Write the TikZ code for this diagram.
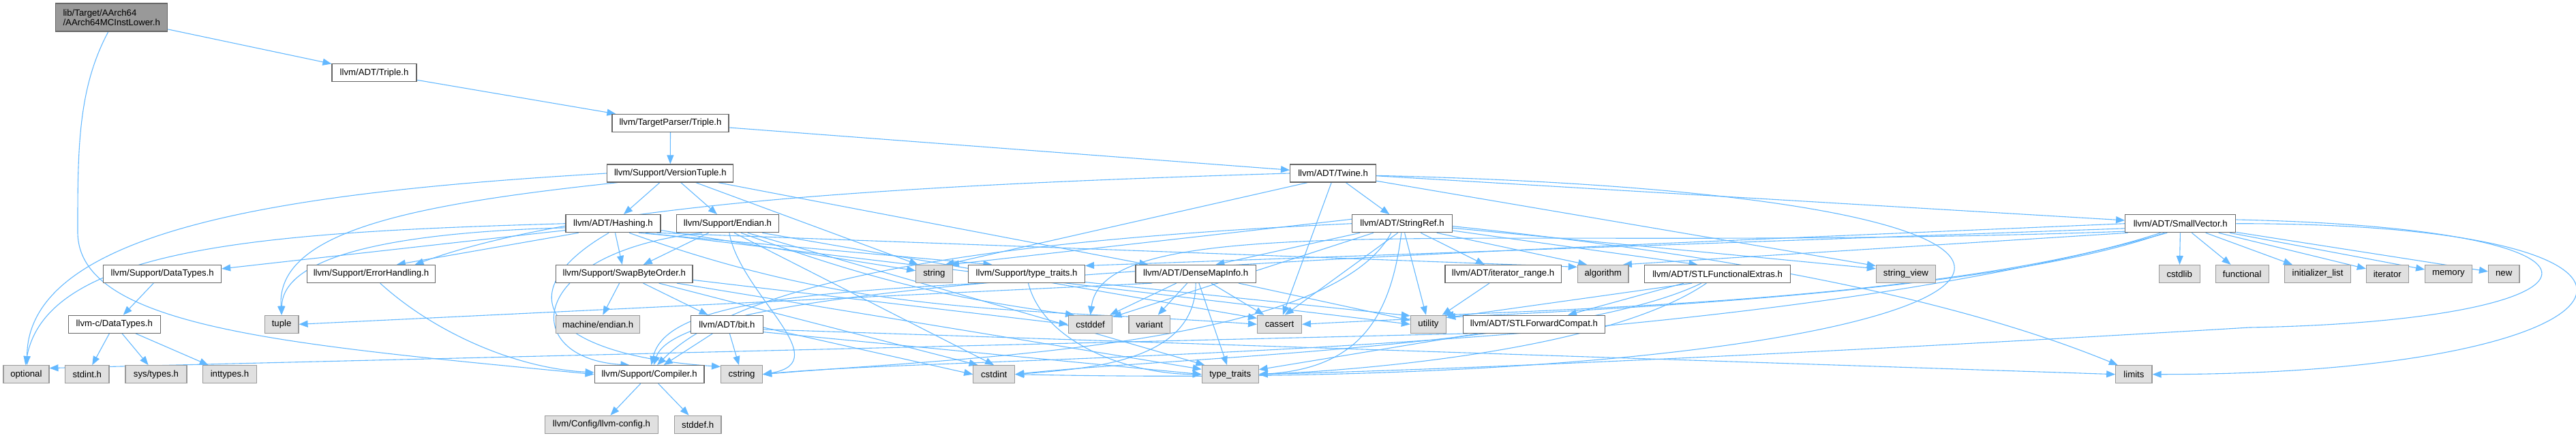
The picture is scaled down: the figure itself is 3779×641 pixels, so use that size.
\documentclass[tikz,border=0pt]{standalone}
\usepackage{fontspec}
\setmainfont{Liberation Sans}
\usetikzlibrary{positioning,arrows.meta,backgrounds}
\definecolor{incc}{HTML}{63B8FF}
\definecolor{filec}{HTML}{666666}
\definecolor{sysc}{HTML}{999999}
\definecolor{sysfill}{HTML}{E0E0E0}
\tikzset{
  hdr/.style={draw=filec, fill=white, line width=1.2pt, inner sep=0pt,
              minimum height=26pt, font=\fontsize{13.2}{14}\selectfont},
  shdr/.style={hdr, draw=sysc, fill=sysfill},
  rhdr/.style={hdr, draw=filec, fill=sysc, align=left, minimum height=41pt},
  inc/.style={-{Triangle[length=13pt,width=10pt]}, color=incc, line width=1.1pt},
}
\begin{document}
\begin{tikzpicture}[x=1pt,y=1pt]
  \useasboundingbox (0,0) rectangle (3779,-641);
  % the file and its direct includes
  \node[rhdr, minimum width=164pt] (main) at (163.7,-25.5) {lib/Target/AArch64\\/AArch64MCInstLower.h};
  \node[hdr, minimum width=124pt] (adttriple) at (549,-106.7) {llvm/ADT/Triple.h};
  \node[hdr, minimum width=171pt] (tptriple) at (983.5,-180.5) {llvm/TargetParser/Triple.h};
  \node[hdr, minimum width=185pt] (versiontuple) at (983.3,-254) {llvm/Support/VersionTuple.h};
  \node[hdr, minimum width=126pt] (twine) at (1955.6,-254) {llvm/ADT/Twine.h};
  % row 4
  \node[hdr, minimum width=139pt] (hashing) at (899.5,-327.7) {llvm/ADT/Hashing.h};
  \node[hdr, minimum width=150pt] (endian) at (1067.5,-327.7) {llvm/Support/Endian.h};
  \node[hdr, minimum width=146.5pt] (stringref) at (2057,-327.7) {llvm/ADT/StringRef.h};
  \node[hdr, minimum width=162pt] (smallvector) at (3198.7,-327.7) {llvm/ADT/SmallVector.h};
  % row 5
  \node[hdr, minimum width=172.7pt] (supdatatypes) at (238.2,-401.5) {llvm/Support/DataTypes.h};
  \node[hdr, minimum width=188.6pt] (errorhandling) at (544.5,-401.5) {llvm/Support/ErrorHandling.h};
  \node[hdr, minimum width=200.5pt] (swapbyteorder) at (915.8,-401.5) {llvm/Support/SwapByteOrder.h};
  \node[shdr, minimum width=53.4pt] (string) at (1370.4,-401.5) {string};
  \node[hdr, minimum width=170.6pt] (typetraitsh) at (1506.1,-401.5) {llvm/Support/type\_traits.h};
  \node[hdr, minimum width=176.4pt] (densemapinfo) at (1754.2,-401.5) {llvm/ADT/DenseMapInfo.h};
  \node[hdr, minimum width=170.2pt] (iteratorrange) at (2205.1,-401.5) {llvm/ADT/iterator\_range.h};
  \node[shdr, minimum width=74.7pt] (algorithm) at (2351.7,-401.5) {algorithm};
  \node[hdr, minimum width=213.8pt] (stlfunc) at (2519.6,-401.5) {llvm/ADT/STLFunctionalExtras.h};
  \node[shdr, minimum width=87.1pt] (stringview) at (2795.9,-401.5) {string\_view};
  \node[shdr, minimum width=60.1pt] (cstdlib) at (3197.2,-401.5) {cstdlib};
  \node[shdr, minimum width=77.8pt] (functional) at (3289.2,-401.5) {functional};
  \node[shdr, minimum width=96.7pt] (initlist) at (3400,-401.5) {initializer\_list};
  \node[shdr, minimum width=61.8pt] (iterator) at (3502.3,-401.5) {iterator};
  \node[shdr, minimum width=68.5pt] (memory) at (3591.9,-401.5) {memory};
  \node[shdr, minimum width=45.4pt] (new) at (3673.2,-401.5) {new};
  % row 6
  \node[hdr, minimum width=134.7pt] (cdatatypes) at (167.8,-475.3) {llvm-c/DataTypes.h};
  \node[shdr, minimum width=49.8pt] (tuple) at (413.1,-475.3) {tuple};
  \node[shdr, minimum width=123.3pt] (machineendian) at (877.1,-475.3) {machine/endian.h};
  \node[hdr, minimum width=105.7pt] (bit) at (1066.4,-475.3) {llvm/ADT/bit.h};
  \node[shdr, minimum width=64.5pt] (cstddef) at (1599.6,-475.3) {cstddef};
  \node[shdr, minimum width=60.4pt] (variant) at (1686.1,-475.3) {variant};
  \node[shdr, minimum width=64.9pt] (cassert) at (1877,-475.3) {cassert};
  \node[shdr, minimum width=52.2pt] (utility) at (2095.5,-475.3) {utility};
  \node[hdr, minimum width=208.6pt] (stlfwd) at (2250.4,-475.3) {llvm/ADT/STLForwardCompat.h};
  % row 7
  \node[shdr, minimum width=67pt] (optional) at (38.4,-548.7) {optional};
  \node[shdr, minimum width=64.5pt] (stdint) at (127.8,-548.7) {stdint.h};
  \node[shdr, minimum width=90pt] (systypes) at (229,-548.7) {sys/types.h};
  \node[shdr, minimum width=78.7pt] (inttypes) at (337,-548.7) {inttypes.h};
  \node[hdr, minimum width=160.8pt] (compiler) at (952.6,-548.7) {llvm/Support/Compiler.h};
  \node[shdr, minimum width=60.8pt] (cstring) at (1088,-548.7) {cstring};
  \node[shdr, minimum width=60.8pt] (cstdint) at (1458.2,-548.7) {cstdint};
  \node[shdr, minimum width=82.8pt] (typetraits) at (1804.7,-548.7) {type\_traits};
  \node[shdr, minimum width=53.3pt] (limits) at (3130.4,-548.7) {limits};
  % row 8
  \node[shdr, minimum width=165.7pt] (llvmconfig) at (882.5,-622.3) {llvm/Config/llvm-config.h};
  \node[shdr, minimum width=68.6pt] (stddefh) at (1023.7,-622.3) {stddef.h};

  \begin{scope}[on background layer]
  % top chain
  \draw[inc] (main) -- (adttriple);
  \draw[inc] (main.-103) .. controls (114,-130) and (114,-220) .. (114,-340)
             .. controls (114,-480) and (420,-505) .. (compiler.west);
  \draw[inc] (adttriple) -- (tptriple);
  \draw[inc] (tptriple) -- (versiontuple);
  \draw[inc] (tptriple) -- (twine);
  % VersionTuple.h
  \draw[inc] (versiontuple) -- (hashing);
  \draw[inc] (versiontuple) -- (endian);
  \draw[inc] (versiontuple.-11) -- (densemapinfo.169);
  \draw[inc] (versiontuple.-20) -- (string.150);
  \draw[inc] (versiontuple.west) .. controls (450,-280) and (40,-330) .. (optional.85);
  \draw[inc] (versiontuple.190) .. controls (600,-300) and (405,-340) .. (tuple.north);
  % Hashing.h
  \draw[inc] (hashing.188) -- (supdatatypes.5);
  \draw[inc] (hashing.195) -- (errorhandling.20);
  \draw[inc] (hashing) -- (swapbyteorder);
  \draw[inc] (hashing.-20) -- (typetraitsh.165);
  \draw[inc] (hashing.-12) -- (algorithm.165);
  \draw[inc] (hashing.-30) .. controls (1270,-465) and (1480,-450) .. (cassert.west);
  \draw[inc] (hashing.-115) .. controls (740,-430) and (800,-520) .. (cstring.160);
  \draw[inc] (hashing.west) .. controls (400,-340) and (70,-360) .. (optional.95);
  \draw[inc] (hashing.185) .. controls (600,-340) and (415,-370) .. (tuple.north);
  \draw[inc] (hashing.-8) -- (string.170);
  \draw[inc] (hashing.-16) -- (utility.west);
  % Endian.h
  \draw[inc] (endian) -- (swapbyteorder);
  \draw[inc] (endian.200) .. controls (770,-370) and (760,-525) .. (compiler.155);
  \draw[inc] (endian.-15) -- (cassert.165);
  \draw[inc] (endian.-35) to[bend right=6] (cstddef.150);
  \draw[inc] (endian.-55) -- (cstdint.north);
  \draw[inc] (endian.-80) .. controls (1085,-430) and (1230,-530) .. (cstring.east);
  \draw[inc] (endian.-25) -- (typetraits.160);
  % SwapByteOrder.h and bit.h
  \draw[inc] (swapbyteorder) -- (machineendian);
  \draw[inc] (swapbyteorder) -- (bit);
  \draw[inc] (swapbyteorder.-5) -- (cstddef.west);
  \draw[inc] (swapbyteorder.-15) -- (cstdint.150);
  \draw[inc] (swapbyteorder.-10) -- (typetraits.170);
  \draw[inc] (bit) -- (compiler);
  \draw[inc] (bit) -- (cstring);
  \draw[inc] (bit.-5) -- (cstdint.west);
  \draw[inc] (bit.-8) -- (limits.west);
  \draw[inc] (bit.-12) -- (typetraits.west);
  % Compiler.h, DataTypes.h, ErrorHandling.h
  \draw[inc] (compiler) -- (llvmconfig);
  \draw[inc] (compiler) -- (stddefh);
  \draw[inc] (supdatatypes) -- (cdatatypes);
  \draw[inc] (cdatatypes) -- (stdint);
  \draw[inc] (cdatatypes) -- (systypes);
  \draw[inc] (cdatatypes) -- (inttypes);
  \draw[inc] (errorhandling.-46) .. controls (640,-490) and (760,-540) .. (compiler.178);
  % type_traits.h and DenseMapInfo.h
  \draw[inc] (typetraitsh.192) .. controls (1150,-430) and (975,-450) .. (compiler.78);
  \draw[inc] (typetraitsh.-80) .. controls (1530,-500) and (1650,-548) .. (typetraits.west);
  \draw[inc] (typetraitsh.-8) -- (utility.155);
  \draw[inc] (densemapinfo) -- (cassert);
  \draw[inc] (densemapinfo) -- (cstddef);
  \draw[inc] (densemapinfo) -- (variant);
  \draw[inc] (densemapinfo) -- (typetraits);
  \draw[inc] (densemapinfo.-90) .. controls (1754,-530) and (1600,-540) .. (cstdint.east);
  \draw[inc] (densemapinfo.192) -- (tuple.east);
  \draw[inc] (densemapinfo) -- (utility);
  % Twine.h
  \draw[inc] (twine) -- (smallvector);
  \draw[inc] (twine) -- (stringref);
  \draw[inc] (twine.west) .. controls (1300,-272) and (850,-300) .. (errorhandling.12);
  \draw[inc] (twine.-100) -- (cassert.70);
  \draw[inc] (twine.-3) .. controls (3400,-290) and (3000,-580) .. (cstdint.east);
  \draw[inc] (twine.-160) -- (string.40);
  \draw[inc] (twine.-10) -- (stringview.165);
  % StringRef.h
  \draw[inc] (stringref) -- (densemapinfo.25);
  \draw[inc] (stringref) -- (stlfunc.155);
  \draw[inc] (stringref) -- (iteratorrange);
  \draw[inc] (stringref.west) .. controls (1500,-350) and (1100,-400) .. (compiler.50);
  \draw[inc] (stringref.-15) -- (algorithm.150);
  \draw[inc] (stringref.-115) -- (cassert.60);
  \draw[inc] (stringref) -- (cstddef);
  \draw[inc] (stringref.-140) .. controls (1950,-510) and (1400,-525) .. (cstring.east);
  \draw[inc] (stringref.-3) .. controls (2500,-370) and (2850,-430) .. (limits.150);
  \draw[inc] (stringref.175) -- (string.30);
  \draw[inc] (stringref.-5) -- (stringview.170);
  \draw[inc] (stringref.-95) .. controls (2040,-470) and (1990,-540) .. (typetraits.east);
  \draw[inc] (stringref) -- (utility);
  % iterator_range.h, STLFunctionalExtras.h, STLForwardCompat.h
  \draw[inc] (iteratorrange) -- (utility);
  \draw[inc] (stlfunc) -- (stlfwd);
  \draw[inc] (stlfunc.200) -- (utility.20);
  \draw[inc] (stlfunc.-150) .. controls (2300,-510) and (1700,-525) .. (cstdint.east);
  \draw[inc] (stlfunc.-140) .. controls (2350,-520) and (1950,-545) .. (typetraits.east);
  \draw[inc] (stlfwd.188) -- (optional.15);
  \draw[inc] (stlfwd) -- (typetraits);
  % SmallVector.h
  \foreach \dst in {cstdlib,functional,initlist,iterator,memory,new}
    \draw[inc] (smallvector) -- (\dst);
  \draw[inc] (smallvector.east) to[out=0, in=0, looseness=7.5] (limits.east);
  \draw[inc] (smallvector.4) .. controls (3900,-335) and (3850,-470) .. (3300,-480)
             .. controls (2800,-510) and (2200,-540) .. (typetraits.east);
  \draw[inc] (smallvector.west) .. controls (1900,-380) and (1000,-410) .. (compiler.65);
  \draw[inc] (smallvector.185) -- (typetraitsh.8);
  \draw[inc] (smallvector.190) -- (algorithm.25);
  \draw[inc] (smallvector.210) .. controls (2900,-440) and (2200,-460) .. (cassert.east);
  \draw[inc] (smallvector.188) .. controls (2200,-372) and (1620,-300) .. (cstddef.north);
  \draw[inc] (smallvector.215) .. controls (2500,-530) and (1400,-520) .. (cstring.east);
  \draw[inc] (smallvector.205) .. controls (2900,-430) and (2400,-450) .. (utility.30);
  \end{scope}
\end{tikzpicture}
\end{document}
